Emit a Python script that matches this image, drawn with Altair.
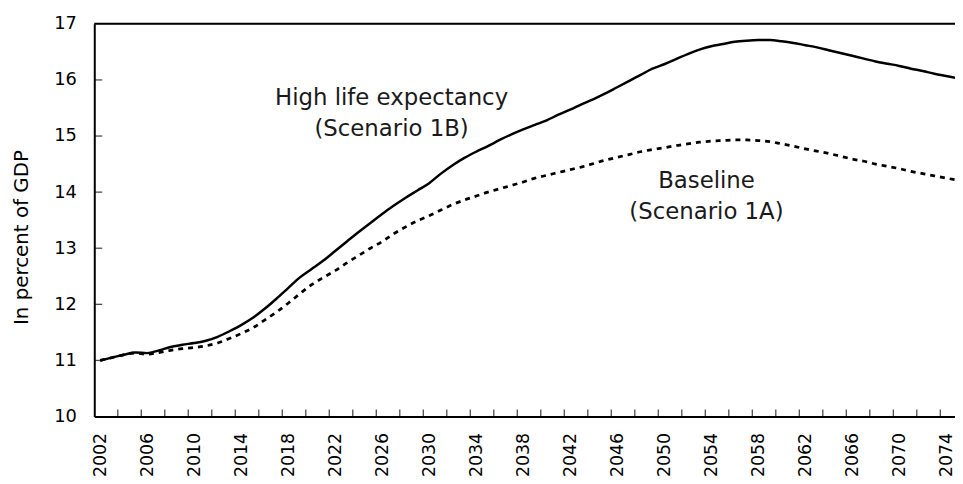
import altair as alt
import pandas as pd

years = list(range(2002, 2076))

high_life = [11.00, 11.05, 11.10, 11.14, 11.13, 11.18, 11.24, 11.28, 11.31, 11.35,
             11.42, 11.52, 11.63, 11.76, 11.92, 12.10, 12.29, 12.48, 12.63, 12.78,
             12.95, 13.12, 13.29, 13.45, 13.61, 13.76, 13.90, 14.03, 14.16, 14.33,
             14.48, 14.61, 14.72, 14.82, 14.93, 15.03, 15.12, 15.20, 15.28, 15.38,
             15.47, 15.57, 15.66, 15.76, 15.87, 15.98, 16.09, 16.20, 16.28, 16.37,
             16.46, 16.54, 16.60, 16.64, 16.68, 16.70, 16.71, 16.71, 16.69, 16.66,
             16.62, 16.58, 16.53, 16.48, 16.43, 16.38, 16.33, 16.29, 16.25, 16.20,
             16.16, 16.11, 16.07, 16.03]

baseline = [11.00, 11.05, 11.10, 11.13, 11.11, 11.14, 11.18, 11.21, 11.23, 11.26,
            11.31, 11.39, 11.48, 11.58, 11.72, 11.86, 12.02, 12.19, 12.35, 12.48,
            12.60, 12.74, 12.87, 13.00, 13.12, 13.26, 13.38, 13.49, 13.58, 13.68,
            13.78, 13.86, 13.93, 14.00, 14.06, 14.12, 14.18, 14.25, 14.30, 14.35,
            14.40, 14.45, 14.51, 14.57, 14.62, 14.67, 14.72, 14.76, 14.79, 14.83,
            14.86, 14.89, 14.91, 14.92, 14.93, 14.93, 14.92, 14.90, 14.86, 14.82,
            14.77, 14.73, 14.69, 14.64, 14.59, 14.55, 14.50, 14.46, 14.42, 14.37,
            14.33, 14.29, 14.25, 14.21]

x_label_years = list(range(2002, 2075, 4))
x_tick_bounds = [y + 0.5 for y in range(2003, 2074, 2)]
y_tick_values = [11, 12, 13, 14, 15, 16]
y_label_values = list(range(10, 18))

ann_text = ["High life expectancy", "(Scenario 1B)", "Baseline", "(Scenario 1A)"]
ann_year = [2026.8, 2026.8, 2053.6, 2053.6]
ann_value = [15.67, 15.12, 14.20, 13.64]

FONT = "DejaVu Sans"

df = pd.DataFrame({
    "year": years * 2,
    "value": high_life + baseline,
    "series": ["High"] * len(years) + ["Base"] * len(years),
})

xscale = alt.Scale(domain=[2001.5, 2074.75], nice=False, zero=False)
yscale = alt.Scale(domain=[10, 17], nice=False, zero=False)

x_enc = alt.X("year:Q", scale=xscale, axis=alt.Axis(
    values=x_label_years, format="d", labelAngle=-90, labelFontSize=17.5,
    labelFont=FONT, labelColor="black", labelPadding=16, ticks=False,
    grid=False, domainColor="black", domainWidth=2, title=None,
    labelBaseline="middle", labelAlign="right", labelFlush=False, labelOverlap=False))
y_enc = alt.Y("value:Q", scale=yscale, axis=alt.Axis(
    values=y_label_values, format="d", labelFontSize=18, labelFont=FONT,
    labelColor="black", labelPadding=18, ticks=False, grid=False,
    domainColor="black", domainWidth=2, title="In percent of GDP",
    titleFont=FONT, titleFontSize=20, titleFontWeight="normal", titleColor="black",
    titleX=-73, titleY=215, titleAngle=-90, titleAlign="center", titleBaseline="middle",
    labelFlush=False))

base = alt.Chart(df)

high_line = base.transform_filter(alt.datum.series == "High").mark_line(
    color="black", strokeWidth=2.5, clip=True, interpolate="monotone"
).encode(x=x_enc, y=y_enc)

base_line = base.transform_filter(alt.datum.series == "Base").mark_line(
    color="black", strokeWidth=2.75, strokeDash=[5, 5], clip=True, interpolate="monotone"
).encode(x=alt.X("year:Q", scale=xscale), y=alt.Y("value:Q", scale=yscale))

xt = alt.Chart(pd.DataFrame({"year": x_tick_bounds})).mark_tick(
    orient="vertical", size=7, thickness=1.3, color="black", yOffset=-3.5
).encode(x=alt.X("year:Q", scale=xscale), y=alt.YDatum(10))

yt = alt.Chart(pd.DataFrame({"value": y_tick_values})).mark_tick(
    orient="horizontal", size=8, thickness=1.3, color="black", xOffset=4
).encode(y=alt.Y("value:Q", scale=yscale), x=alt.XDatum(2001.5))

top_rule = alt.Chart(pd.DataFrame({"value": [17]})).mark_rule(
    color="black", strokeWidth=2
).encode(y=alt.Y("value:Q", scale=yscale))

ann = alt.Chart(pd.DataFrame({"year": ann_year, "value": ann_value, "text": ann_text})).mark_text(
    font=FONT, fontSize=23, color="#1a1a1a", align="center", baseline="middle"
).encode(x=alt.X("year:Q", scale=xscale), y=alt.Y("value:Q", scale=yscale), text="text:N")

chart = alt.layer(high_line, base_line, xt, yt, top_rule, ann).properties(
    width=868, height=396,
    autosize=alt.AutoSizeParams(type="none"),
    padding={"left": 87, "top": 14, "right": 0, "bottom": 58},
).configure_view(stroke=None).configure(background="white")

chart.save("out.html", embed_options={"renderer": "svg", "actions": False})
